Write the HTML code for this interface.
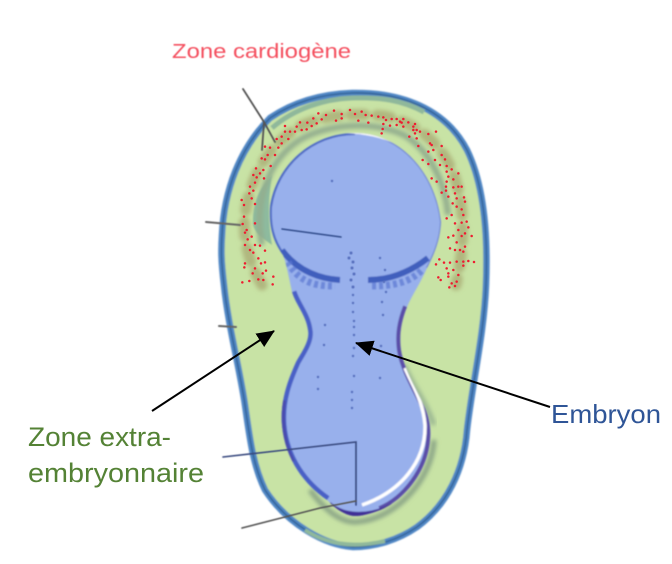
<!DOCTYPE html>
<html><head><meta charset="utf-8"><style>
html,body{margin:0;padding:0;background:#fff;width:672px;height:564px;overflow:hidden}
svg{display:block}
text{font-family:"Liberation Sans",sans-serif}
</style></head><body>
<svg width="672" height="564" viewBox="0 0 672 564" xmlns="http://www.w3.org/2000/svg">
<defs>
<filter id="b1" x="-10%" y="-10%" width="120%" height="120%"><feGaussianBlur stdDeviation="0.8"/></filter>
<filter id="b2" x="-10%" y="-10%" width="120%" height="120%"><feGaussianBlur stdDeviation="2.2"/></filter>
<filter id="b0" x="-10%" y="-10%" width="120%" height="120%"><feGaussianBlur stdDeviation="0.45"/></filter>
<marker id="ah" markerUnits="userSpaceOnUse" markerWidth="18" markerHeight="16" refX="17" refY="8" orient="auto"><path d="M0 0L18 8L0 16Z" fill="#000"/></marker>
<path id="op" d="M352 93C400 92 445 108 467 150C484 185 488 235 486 285C484 335 472 385 467 430C464 470 447 505 417 527C398 540 375 547 353 547C325 545 288 525 265 490C253 465 250 440 245 405C240 370 228 325 224 285C221 260 221 250 222 235C224 190 240 148 270 118C295 101 322 94 352 93Z"/>
<path id="em" d="M355 133C402 133 436 175 441 222C440 243 432 258 427 268C420 284 412 295 407 307C401 322 399 335 401 350C404 370 418 392 425 408C430 420 431 430 430 440C428 470 405 500 380 510C370 514 362 516 355 516C345 516 335 508 327 500C305 485 285 460 282 425C280 400 288 380 296 362C303 350 310 340 308 330C306 315 296 305 292 292C289 278 286 262 283 255C272 240 269 225 270 207C276 165 312 133 355 133Z"/>
<clipPath id="ec"><use href="#em"/></clipPath>
</defs>

<!-- outer body -->
<g filter="url(#b1)">
<use href="#op" fill="#c8e3a5" stroke="#4f86c4" stroke-width="6.5"/>
<use href="#op" fill="none" stroke="#2f5c8f" stroke-width="1.3"/>
<path d="M272 128C295 108 325 99 352 98C380 97 402 100 424 112" fill="none" stroke="#8fb89b" stroke-width="5"/>
<path d="M305 530C325 543 350 549 385 541" fill="none" stroke="#8fb89b" stroke-width="4"/>
<path d="M272 175C258 190 252 205 253 225C256 235 265 240 272 245C268 220 268 200 272 175Z" fill="#8dbb9f"/>
</g>

<!-- olive blotches -->
<g filter="url(#b2)" fill="none" stroke-linecap="round">
<path d="M262 285C250 265 242 240 245 215C250 180 264 150 297 128C320 116 350 112 385 116C420 124 443 146 454 175C464 205 466 240 456 285" stroke="#b0b77f" stroke-width="11" stroke-dasharray="14 12"/>
</g>
<!-- dark ring around embryo -->
<path d="M262 245C254 205 266 163 298 141C325 124 372 120 404 135C428 149 445 180 448 215" fill="none" stroke="#93ad8e" stroke-width="6" filter="url(#b2)"/>
<path d="M310 490C325 510 340 522 355 522C395 520 432 480 434 440" fill="none" stroke="#88a285" stroke-width="5" filter="url(#b2)"/>
<path d="M404 365C412 385 425 400 434 425" fill="none" stroke="#9ab592" stroke-width="5" filter="url(#b2)"/>

<!-- embryo -->
<g filter="url(#b1)">
<use href="#em" fill="#98b0ec"/>
<g clip-path="url(#ec)" fill="none">
<path d="M355 133C402 133 436 175 441 222C440 243 432 258 427 268" stroke="#6a7fd6" stroke-width="2"/>
<path d="M355 133C312 133 276 165 270 207C269 225 272 240 283 255" stroke="#4a66c4" stroke-width="4"/>
<path d="M407 307C401 322 399 335 401 350C404 370 418 392 425 408C430 420 431 430 430 440C428 470 405 500 380 510" stroke="#5a4ea8" stroke-width="8"/>
<path d="M405 368C412 385 423 400 425 425C426 462 400 492 362 505" stroke="#fff" stroke-width="3.5"/>
<path d="M292 292C296 305 306 315 308 330C310 340 303 350 296 362C288 380 280 400 282 425C285 460 305 485 327 500" stroke="#4a60c6" stroke-width="9"/>
<path d="M283 400C280 425 284 445 292 462" stroke="#4a4cae" stroke-width="6"/>
<path d="M330 503C345 516 370 516 392 504L380 516L340 516Z" fill="#3f2f96" stroke="#3f2f96" stroke-width="2"/>
<path d="M325 136C340 128 378 132 402 146" stroke="#fff" stroke-width="3"/>
<path d="M282 250C298 272 322 279 340 280" stroke="#3f5ebd" stroke-width="6"/>
<path d="M368 280C390 280 410 272 428 258" stroke="#3f5ebd" stroke-width="6"/>
<path d="M288 262C300 285 320 286 335 286" stroke="#5b78d2" stroke-width="7" stroke-dasharray="4 3" opacity=".7"/>
<path d="M372 286C395 286 410 282 422 270" stroke="#5b78d2" stroke-width="7" stroke-dasharray="4 3" opacity=".7"/>
</g>
</g>

<!-- speckles in embryo -->
<g filter="url(#b0)" fill="none" stroke="#4c63b5" stroke-linecap="round" opacity=".85">
<path stroke-width="3" d="M351 253h0M349 258h0M353 262h0M352 268h0M354 274h0M351 280h0M353 287h0"/>
<path stroke-width="2.4" d="M353 295h0M353 303h0M353 312h0M354 321h0M354 327h0M354 335h0M354 348h0M353 356h0M354 376h0M352 392h0M352 400h0M352 408h0M325 325h0M324 345h0M318 377h0M318 389h0M382 302h0M383 315h0M381 346h0M380 378h0M332 181h0M380 258h0M385 270h0M384 282h0M386 292h0"/>
</g>

<!-- thin grey lines -->
<g fill="none" stroke-linecap="round" filter="url(#b0)">
<path d="M243 89L264 122L275 142M264 122L262 150" stroke="#555" stroke-width="1.8"/>
<path d="M206 222L240 225" stroke="#666" stroke-width="2"/>
<path d="M282 229L341 237" stroke="#334d8c" stroke-width="1.6"/>
<path d="M219 326L236 327" stroke="#666" stroke-width="2"/>
<path d="M223 457L285 450L356 442L356 505" stroke="#38487e" stroke-width="1.6"/>
<path d="M242 528L320 508L356 501" stroke="#555" stroke-width="1.6"/>
</g>

<!-- red dots -->
<g transform="translate(200 80) scale(.33333)">
<path fill="none" stroke="#ee1c30" stroke-width="7.5" stroke-linecap="round" d="M402 92h0M355 100h0M378 105h0M340 115h0M365 118h0M300 127h0M322 128h0M350 130h0M425 102h0M425 115h0M408 122h0M450 90h0M465 102h0M485 95h0M497 105h0M515 107h0M535 110h0M475 122h0M505 128h0M550 112h0M558 120h0M550 132h0M575 117h0M590 117h0M610 117h0M570 137h0M590 135h0M605 128h0M625 127h0M645 132h0M548 147h0M545 160h0M610 140h0M255 138h0M255 155h0M270 155h0M290 140h0M305 150h0M320 148h0M335 138h0M285 155h0M245 170h0M265 177h0M230 177h0M245 190h0M195 200h0M210 203h0M235 203h0M225 225h0M203 225h0M185 235h0M195 238h0M168 265h0M190 270h0M212 258h0M180 280h0M170 292h0M160 285h0M192 295h0M165 308h0M150 320h0M160 332h0M148 340h0M155 355h0M125 360h0M132 375h0M165 372h0M132 410h0M128 432h0M140 450h0M135 458h0M165 430h0M155 470h0M143 478h0M165 495h0M180 497h0M135 495h0M195 512h0M150 510h0M160 518h0M175 535h0M195 547h0M135 550h0M183 550h0M133 562h0M165 565h0M198 572h0M158 580h0M220 590h0M175 598h0M190 600h0M148 603h0M127 607h0M218 613h0M188 580h0M640 150h0M660 155h0M685 162h0M708 155h0M628 170h0M650 175h0M655 198h0M695 195h0M725 198h0M685 215h0M725 225h0M705 240h0M735 238h0M668 240h0M685 252h0M720 255h0M740 258h0M755 268h0M775 280h0M740 275h0M745 290h0M760 298h0M695 295h0M710 305h0M740 305h0M775 320h0M760 322h0M785 320h0M738 320h0M738 332h0M725 338h0M765 340h0M792 352h0M770 355h0M795 365h0M745 350h0M758 370h0M770 380h0M785 388h0M790 405h0M755 405h0M740 415h0M765 430h0M785 428h0M800 425h0M805 442h0M775 450h0M795 460h0M815 468h0M785 468h0M760 467h0M745 472h0M770 487h0M795 500h0M750 505h0M765 510h0M780 510h0M790 515h0M718 538h0M732 548h0M750 548h0M708 553h0M770 545h0M790 545h0M805 543h0M822 546h0M790 557h0M740 565h0M760 570h0M745 580h0M775 585h0M715 592h0M722 600h0M745 590h0M770 605h0M755 610h0M765 618h0M748 622h0M690 190h0M700 210h0M650 150h0M645 160h0M600 125h0M640 140h0"/>
</g>

<!-- arrows -->
<line x1="152" y1="411" x2="274" y2="331" stroke="#000" stroke-width="2" marker-end="url(#ah)"/>
<line x1="550" y1="407" x2="356" y2="343" stroke="#000" stroke-width="2" marker-end="url(#ah)"/>

<!-- labels -->
<text x="172" y="58" font-size="20" fill="#f4505f" textLength="179" lengthAdjust="spacingAndGlyphs" filter="url(#b0)">Zone cardiogène</text>
<text x="28" y="446" font-size="27" fill="#548235" textLength="143" lengthAdjust="spacingAndGlyphs">Zone extra-</text>
<text x="28" y="482" font-size="27" fill="#548235" textLength="176" lengthAdjust="spacingAndGlyphs">embryonnaire</text>
<text x="551" y="423" font-size="26" fill="#2f5597" textLength="110" lengthAdjust="spacingAndGlyphs">Embryon</text>
</svg>
</body></html>
